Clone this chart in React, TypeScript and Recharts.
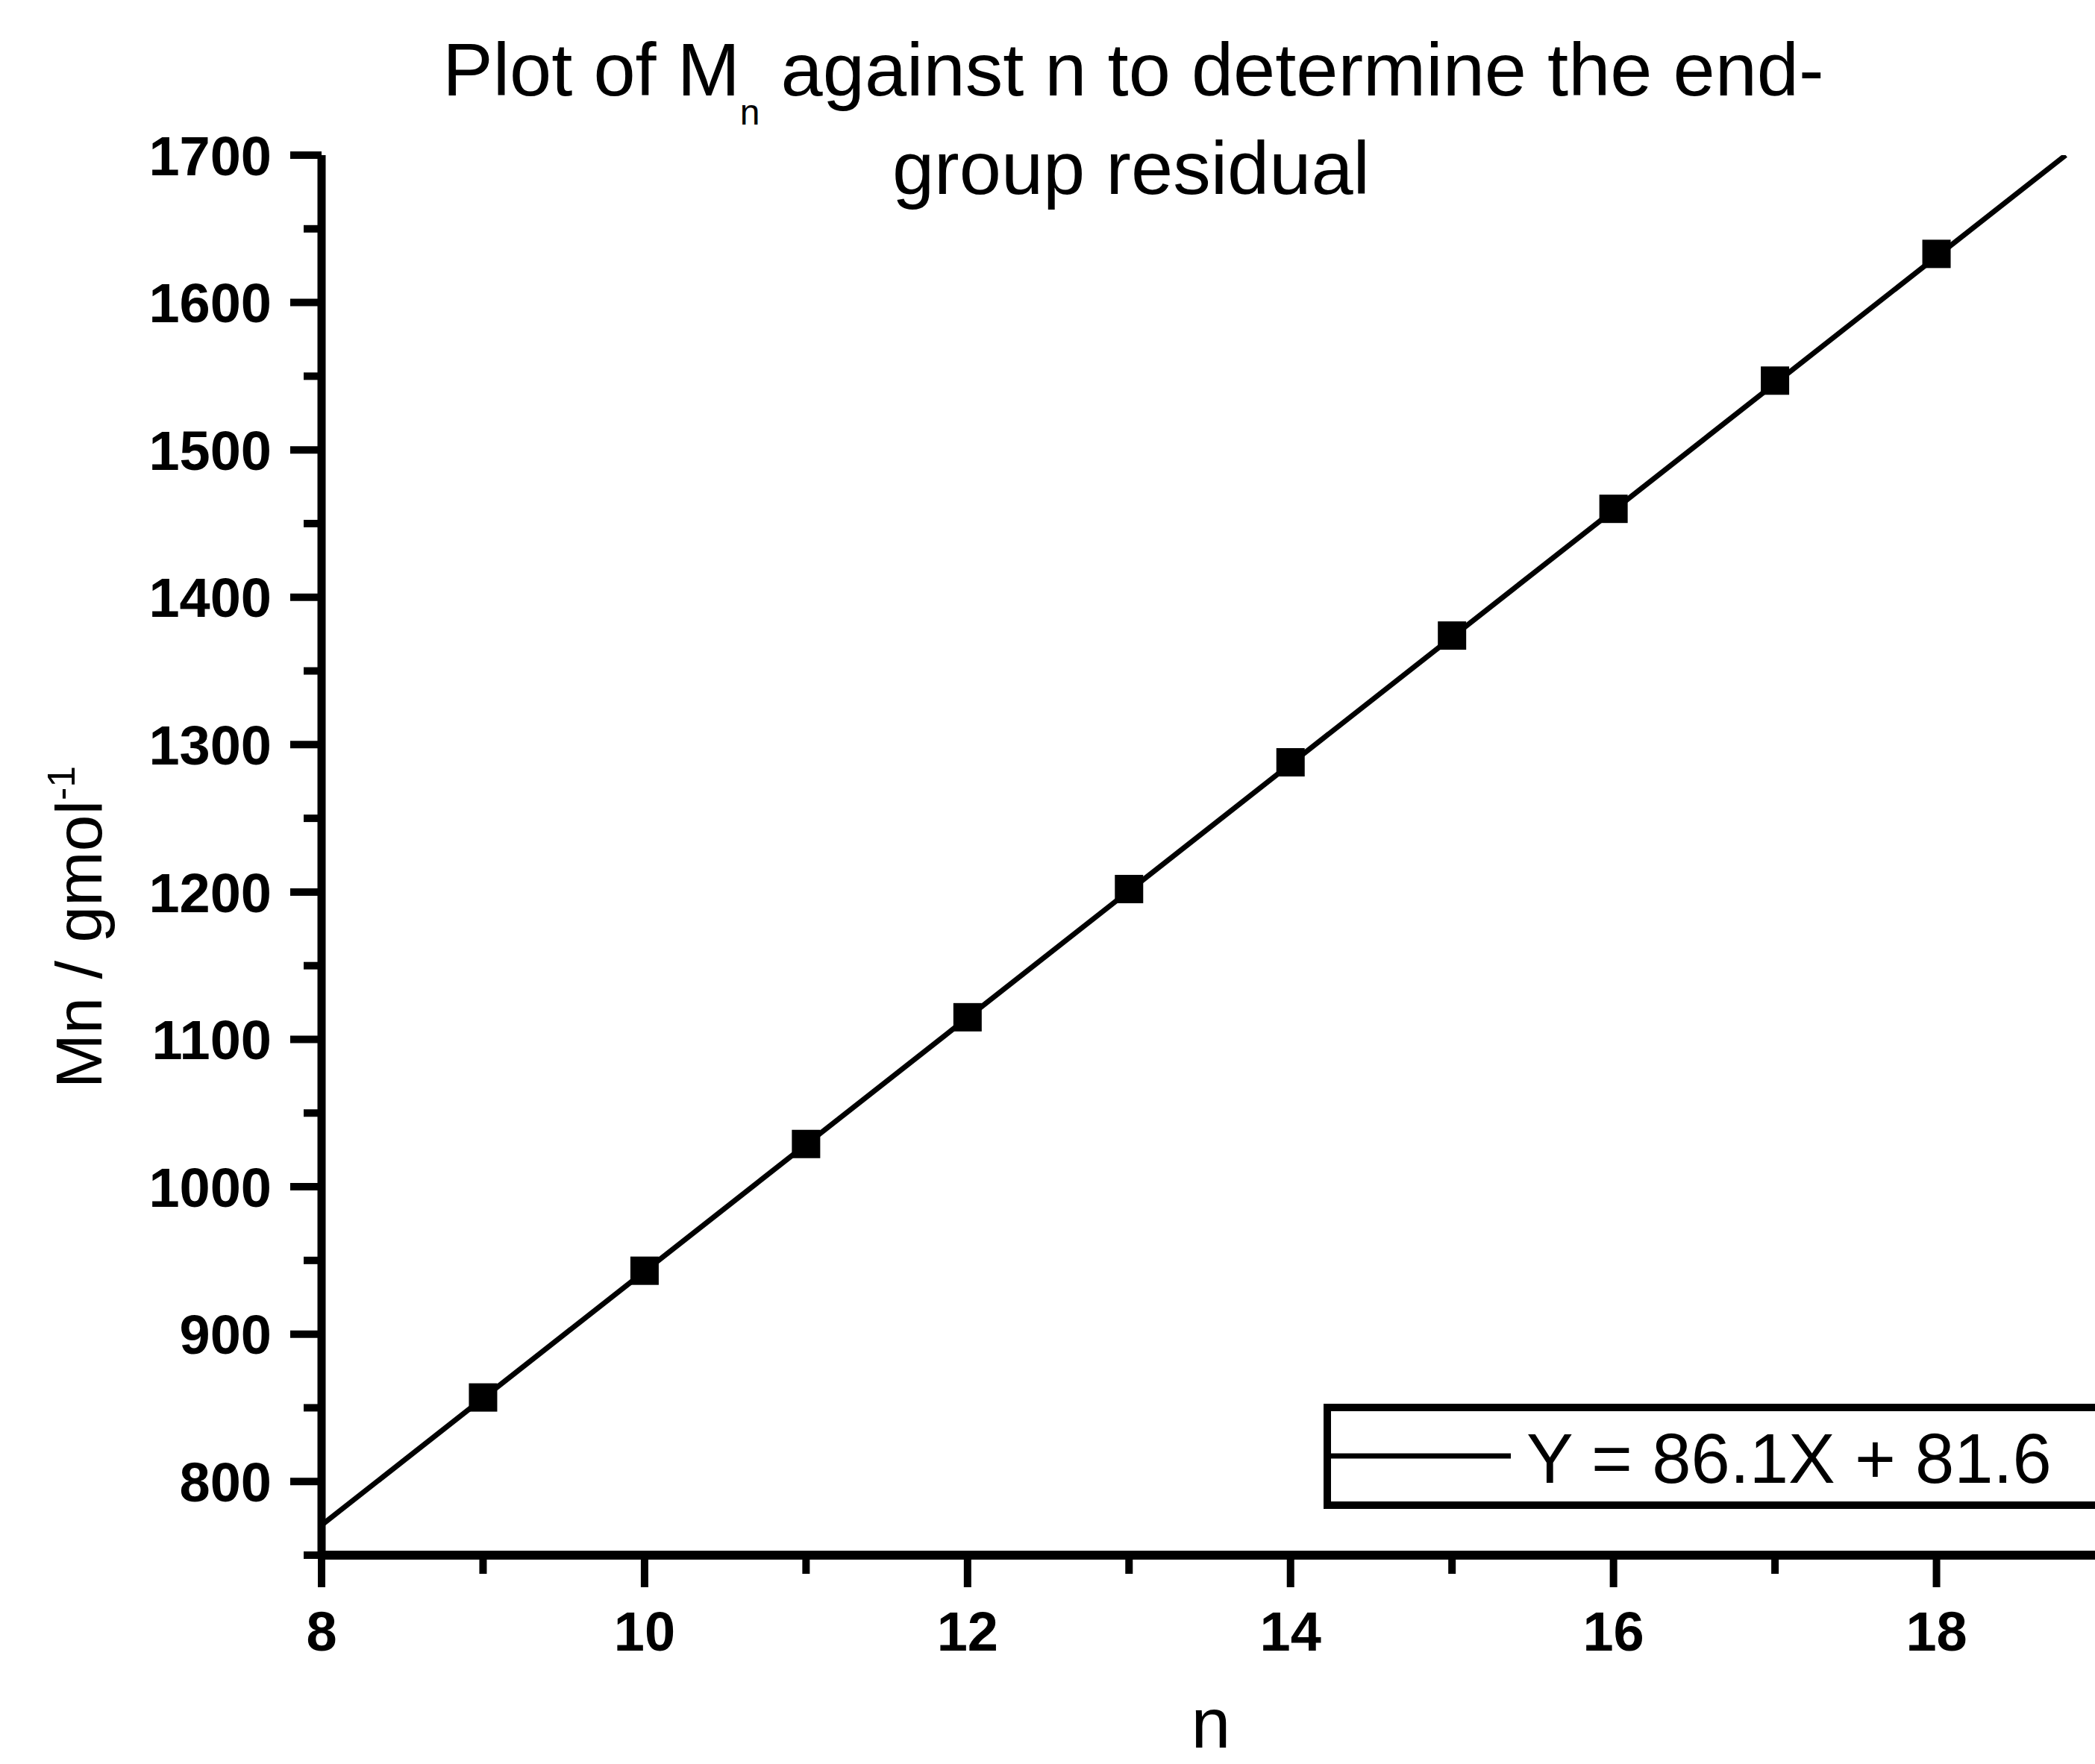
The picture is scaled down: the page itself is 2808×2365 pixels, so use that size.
import React from 'react';
import { ComposedChart, XAxis, YAxis, Line, Scatter, Legend, Customized } from 'recharts';

const nValues = [9, 10, 11, 12, 13, 14, 15, 16, 17, 18];
const mnValues = [857, 943, 1029, 1115, 1202, 1288, 1374, 1460, 1547, 1633];
const fitN = [8, 18.8];
const fitY = [770.4, 1700];
const fitName = 'Y = 86.1X + 81.6';
const xTicks = [8, 9, 10, 11, 12, 13, 14, 15, 16, 17, 18];
const yTicks = [750, 800, 850, 900, 950, 1000, 1050, 1100, 1150, 1200, 1250, 1300, 1350, 1400, 1450, 1500, 1550, 1600, 1650, 1700];
const titleLine1a = 'Plot of M';
const titleSub = 'n';
const titleLine1b = ' against n to determine the end-';
const titleLine2 = 'group residual';
const yLabelMain = 'Mn / gmol';
const yLabelSup = '-1';
const xLabel = 'n';

const points = nValues.map((n, i) => ({ n, mn: mnValues[i] }));
const fitData = fitN.map((n, i) => ({ n, fit: fitY[i] }));

const FONT = '"Liberation Sans", Arial, Helvetica, sans-serif';

const YTick = (props: any) => {
  const { x, y, payload } = props;
  const v = payload.value;
  const major = v % 100 === 0;
  return (
    <g>
      <line x1={x - (major ? 42 : 24)} x2={x} y1={y} y2={y} stroke="#000" strokeWidth={10} />
      {major && (
        <text x={x - 67} y={y} dy="0.36em" textAnchor="end" fontFamily={FONT} fontWeight="bold" fontSize={74} fill="#000">
          {v}
        </text>
      )}
    </g>
  );
};

const XTick = (props: any) => {
  const { x, y, payload } = props;
  const v = payload.value;
  const major = v % 2 === 0;
  return (
    <g>
      <line x1={x} x2={x} y1={y} y2={y + (major ? 43 : 25)} stroke="#000" strokeWidth={10} />
      {major && (
        <text x={x} y={y + 128} textAnchor="middle" fontFamily={FONT} fontWeight="bold" fontSize={74} fill="#000">
          {v}
        </text>
      )}
    </g>
  );
};

const Labels = () => (
  <g fontFamily={FONT} fill="#000">
    <text x={1519} y={128} textAnchor="middle" fontSize={101}>
      <tspan>{titleLine1a}</tspan>
      <tspan fontSize={48} dy={39}>{titleSub}</tspan>
      <tspan dy={-39}>{titleLine1b}</tspan>
    </text>
    <text x={1516} y={260} textAnchor="middle" fontSize={101}>{titleLine2}</text>
    <text transform="translate(136,1243) rotate(-90)" x={0} y={0} textAnchor="middle" fontSize={88}>
      <tspan>{yLabelMain}</tspan>
      <tspan fontSize={52} dy={-36}>{yLabelSup}</tspan>
    </text>
    <text x={1623} y={2343} textAnchor="middle" fontSize={95}>{xLabel}</text>
  </g>
);

const LegendBox = (props: any) => {
  const item = (props.payload || []).find((p: any) => p.value === fitName);
  const label = item ? item.value : fitName;
  return (
    <svg width={1100} height={141} style={{ display: 'block' }}>
      <rect x={5} y={5} width={1120} height={131} fill="#fff" stroke="#000" strokeWidth={10} />
      <line x1={9} x2={251} y1={70} y2={70} stroke="#000" strokeWidth={7} />
      <text x={272} y={106} fontFamily={FONT} fontSize={94} fill="#000">{label}</text>
    </svg>
  );
};

export default function App() {
  return (
    <div style={{ position: 'absolute', left: 0, top: 0, width: 2808, height: 2365, overflow: 'hidden', background: '#fff' }}>
      <ComposedChart width={2830} height={2365} margin={{ top: 208, right: 18, bottom: 0, left: 0 }}>
        <XAxis
          type="number"
          dataKey="n"
          domain={[8, 19]}
          ticks={xTicks}
          interval={0}
          allowDataOverflow
          height={280}
          tickSize={0}
          tickMargin={0}
          tickLine={false}
          axisLine={{ stroke: '#000', strokeWidth: 12 }}
          tick={<XTick />}
        />
        <YAxis
          type="number"
          domain={[750, 1700]}
          ticks={yTicks}
          interval={0}
          allowDataOverflow
          width={431}
          tickSize={0}
          tickMargin={0}
          tickLine={false}
          axisLine={{ stroke: '#000', strokeWidth: 11 }}
          tick={<YTick />}
        />
        <Line
          data={fitData}
          dataKey="fit"
          name={fitName}
          type="linear"
          stroke="#000"
          strokeWidth={7}
          dot={false}
          activeDot={false}
          isAnimationActive={false}
        />
        <Scatter
          data={points}
          dataKey="mn"
          name="Mn"
          legendType="none"
          fill="#000"
          isAnimationActive={false}
          shape={(p: any) => <rect x={p.cx - 19} y={p.cy - 19} width={38} height={38} fill="#000" />}
        />
        <Legend
          layout="horizontal"
          verticalAlign="middle"
          align="center"
          content={<LegendBox />}
          wrapperStyle={{ position: 'absolute', left: 1774, top: 1882, width: 1100, height: 141 }}
        />
        <Customized component={<Labels />} />
      </ComposedChart>
    </div>
  );
}
